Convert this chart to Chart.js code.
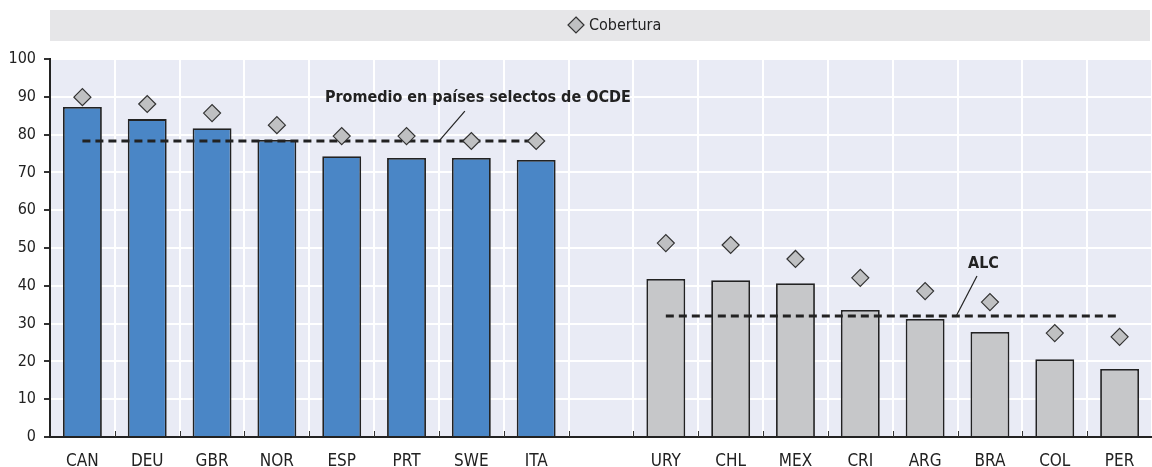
<!DOCTYPE html>
<html>
<head>
<meta charset="utf-8">
<script src="https://cdn.jsdelivr.net/npm/chart.js@4/dist/chart.umd.min.js"></script>
<style>
  html, body { margin: 0; padding: 0; background: #fff; }
  #wrap { width: 1152px; height: 467px; position: relative; }
</style>
</head>
<body>
<div id="wrap"><canvas id="chart"></canvas></div>
<script>
// ========================================
// Datos
// ========================================
const paises = ['CAN', 'DEU', 'GBR', 'NOR', 'ESP', 'PRT', 'SWE', 'ITA', '', 'URY', 'CHL', 'MEX', 'CRI', 'ARG', 'BRA', 'COL', 'PER'];
const grupos = ['OCDE', 'OCDE', 'OCDE', 'OCDE', 'OCDE', 'OCDE', 'OCDE', 'OCDE', null, 'ALC', 'ALC', 'ALC', 'ALC', 'ALC', 'ALC', 'ALC', 'ALC'];
const valores = [87.3, 84.1, 81.7, 78.6, 74.3, 73.8, 73.8, 73.3, null, 41.8, 41.5, 40.7, 33.6, 31.2, 27.8, 20.6, 18.0];
const cobertura = [89.9, 88.1, 85.7, 82.5, 79.6, 79.6, 78.3, 78.3, null, 51.3, 50.8, 47.1, 42.1, 38.6, 35.7, 27.5, 26.5];
const promedioOCDE = 78.3;
const promedioALC = 32.0;
const yTicks = [0, 10, 20, 30, 40, 50, 60, 70, 80, 90, 100];

// Notas (posicion en indice de categoria / valor)
const notaOCDE = { texto: 'Promedio en países selectos de OCDE', x: 6.1, y: 89.6, desde: [5.9, 86.2], hasta: [5.5, promedioOCDE] };
const notaALC = { texto: 'ALC', x: 13.9, y: 45.8, desde: [13.8, 42.6], hasta: [13.48, promedioALC] };

const FONT = "'Liberation Sans Narrow', 'DejaVu Sans Condensed', 'Roboto Condensed', Arial, sans-serif";
const colorOCDE = '#4a86c6';
const colorALC = '#c6c7c9';

const barColors = grupos.map(g => g === 'OCDE' ? colorOCDE : colorALC);
const lineaOCDE = grupos.map(g => g === 'OCDE' ? promedioOCDE : null);
const lineaALC = grupos.map(g => g === 'ALC' ? promedioALC : null);

// Fondo del grafico y leyenda
const fondoPlugin = {
  id: 'fondo',
  beforeDraw(chart) {
    const { ctx, chartArea } = chart;
    ctx.save();
    ctx.fillStyle = '#e9ebf5';
    ctx.fillRect(chartArea.left, chartArea.top, chartArea.right - chartArea.left, chartArea.bottom - chartArea.top);
    // caja de leyenda
    ctx.fillStyle = '#e6e6e8';
    ctx.fillRect(chartArea.left, 10, chartArea.right - chartArea.left - 2, 31);
    const cx = 576;
    const cy = 25;
    ctx.beginPath();
    ctx.moveTo(cx, cy - 8);
    ctx.lineTo(cx + 8, cy);
    ctx.lineTo(cx, cy + 8);
    ctx.lineTo(cx - 8, cy);
    ctx.closePath();
    ctx.fillStyle = '#bfc0c2';
    ctx.fill();
    ctx.strokeStyle = '#333';
    ctx.lineWidth = 1.2;
    ctx.stroke();
    ctx.fillStyle = '#222';
    ctx.font = '16px ' + FONT;
    ctx.textBaseline = 'middle';
    ctx.textAlign = 'left';
    ctx.fillText('Cobertura', cx + 13, cy + 1);
    ctx.restore();
  }
};

// Notas y marcas del eje x
const notasPlugin = {
  id: 'notas',
  afterDatasetsDraw(chart) {
    const { ctx, scales } = chart;
    const x = scales.x, y = scales.y;
    ctx.save();
    // marcas interiores del eje x
    ctx.strokeStyle = '#333';
    ctx.lineWidth = 1;
    for (let i = 1; i < paises.length; i++) {
      const px = Math.round(x.getPixelForValue(i - 0.5)) + 0.5;
      ctx.beginPath();
      ctx.moveTo(px, y.bottom);
      ctx.lineTo(px, y.bottom - 6);
      ctx.stroke();
    }
    [notaOCDE, notaALC].forEach(n => {
      ctx.strokeStyle = '#222';
      ctx.lineWidth = 1.2;
      ctx.beginPath();
      ctx.moveTo(x.getPixelForValue(n.desde[0]), y.getPixelForValue(n.desde[1]));
      ctx.lineTo(x.getPixelForValue(n.hasta[0]), y.getPixelForValue(n.hasta[1]));
      ctx.stroke();
      ctx.fillStyle = '#222';
      ctx.font = 'bold 16px ' + FONT;
      ctx.textAlign = 'center';
      ctx.textBaseline = 'middle';
      ctx.fillText(n.texto, x.getPixelForValue(n.x), y.getPixelForValue(n.y));
    });
    ctx.restore();
  }
};

new Chart(document.getElementById('chart'), {
  type: 'bar',
  data: {
    labels: paises,
    datasets: [
      {
        type: 'line',
        label: 'Cobertura',
        data: cobertura,
        showLine: false,
        pointStyle: 'rectRot',
        pointRadius: 8.5,
        pointBackgroundColor: '#bfc0c2',
        pointBorderColor: '#333',
        pointBorderWidth: 1.2,
        order: 1
      },
      {
        type: 'line',
        label: 'Promedio OCDE',
        data: lineaOCDE,
        borderColor: '#222',
        borderWidth: 3,
        borderDash: [8, 5],
        pointRadius: 0,
        spanGaps: false,
        order: 2
      },
      {
        type: 'line',
        label: 'ALC',
        data: lineaALC,
        borderColor: '#222',
        borderWidth: 3,
        borderDash: [8, 5],
        pointRadius: 0,
        spanGaps: false,
        order: 2
      },
      {
        label: 'Valor',
        data: valores,
        backgroundColor: barColors,
        borderColor: '#222',
        borderWidth: 1.8,
        categoryPercentage: 1,
        barPercentage: 0.6,
        order: 3
      }
    ]
  },
  options: {
    responsive: true,
    maintainAspectRatio: false,
    animation: false,
    layout: { autoPadding: false, padding: { top: 59, right: 0, left: 0, bottom: 0 } },
    plugins: {
      legend: { display: false },
      tooltip: { enabled: false }
    },
    scales: {
      x: {
        offset: true,
        grid: { color: '#ffffff', lineWidth: 2, offset: true, drawTicks: false },
        border: { color: '#222', width: 2 },
        ticks: { color: '#222', font: { family: FONT, size: 17 }, padding: 14, autoSkip: false, maxRotation: 0 },
        afterFit(scale) { scale.height = 30; }
      },
      y: {
        min: 0,
        max: 100,
        afterBuildTicks(scale) { scale.ticks = yTicks.map(v => ({ value: v })); },
        grid: { color: '#ffffff', lineWidth: 2, drawTicks: true, tickLength: 6, tickColor: '#333' },
        border: { color: '#222', width: 2 },
        ticks: { color: '#222', font: { family: FONT, size: 16 }, padding: 8 },
        afterFit(scale) { scale.width = 50; }
      }
    }
  },
  plugins: [fondoPlugin, notasPlugin]
});
</script>
</body>
</html>
